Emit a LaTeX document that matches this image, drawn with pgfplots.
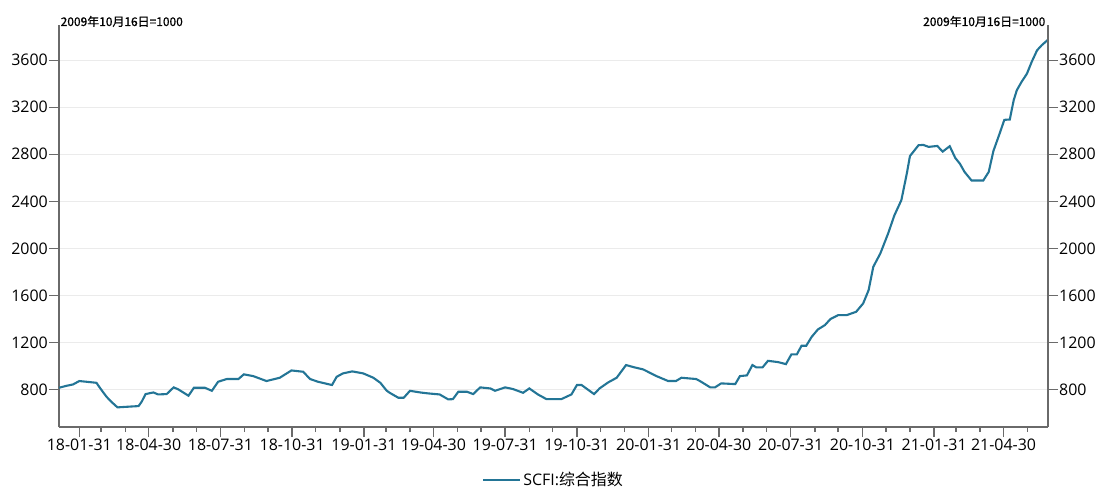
\documentclass[border=0pt]{standalone}
\usepackage{fontspec}
\setmainfont{Open Sans}
\newfontfamily\cjk{Noto Sans CJK SC}
\newfontfamily\cjkb[FakeBold=0.8]{Noto Sans CJK SC}
\usepackage{pgfplots}
\usepackage{pgfplotstable}
\pgfplotsset{compat=1.18}
\definecolor{linec}{HTML}{237596}
\definecolor{axc}{HTML}{6A6A6A}
\definecolor{gridc}{HTML}{EBEBEB}

\pgfplotstableread{
day val
0 814
10 831
18 842
26 871
35 865
48 856
53 808
61 737
67 695
75 647
87 652
102 658
106 695
111 760
121 774
127 757
138 760
147 817
153 800
166 746
173 814
187 814
196 788
204 865
215 888
230 888
237 928
249 913
266 871
283 899
298 961
313 950
322 888
332 865
350 837
356 907
364 936
376 953
390 936
403 899
412 856
420 790
424 771
435 729
442 729
450 788
463 774
473 766
488 757
499 715
505 717
512 780
523 780
531 760
540 817
553 808
559 788
572 817
582 803
595 771
603 808
614 757
625 717
644 717
657 757
664 837
670 837
686 760
693 808
704 859
715 899
727 1007
738 987
749 970
766 913
781 871
791 871
798 899
817 888
822 870
835 817
841 817
849 851
867 845
873 913
882 919
889 1007
894 987
902 987
909 1043
922 1032
932 1015
939 1098
946 1098
952 1171
958 1171
965 1247
973 1310
982 1347
989 1398
999 1432
1010 1432
1022 1460
1031 1531
1038 1644
1044 1843
1053 1956
1063 2126
1071 2280
1080 2410
1087 2637
1091 2785
1102 2877
1108 2880
1115 2863
1126 2871
1133 2823
1142 2869
1149 2770
1155 2720
1161 2650
1170 2577
1185 2577
1192 2650
1198 2828
1206 2977
1212 3093
1219 3096
1224 3260
1228 3345
1234 3415
1241 3486
1247 3585
1254 3685
1260 3728
1268 3775
}\scfi

\begin{document}
\begin{tikzpicture}
\pgfplotsset{
  base/.style={scale only axis, width=989bp, height=402bp,
    xmin=0, xmax=1268, ymin=480, ymax=3900,
    at={(0,0)}, anchor=south west},
  tl/.style={font=\fontsize{16}{19}\selectfont},
}
\begin{axis}[base, clip=false,
  axis x line*=bottom, axis y line*=left,
  axis line style={-, draw=axc, line width=1.8bp},
  tick align=outside,
  xtick={26,115,207,299,391,480,572,664,756,846,938,1030,1122,1211},
  xticklabels={18-01-31,18-04-30,18-07-31,18-10-31,19-01-31,19-04-30,19-07-31,19-10-31,20-01-31,20-04-30,20-07-31,20-10-31,21-01-31,21-04-30},
  minor xtick={54,85,146,176,238,268,329,360,419,450,511,541,603,633,694,725,785,816,877,907,969,999,1060,1091,1150,1181,1242},
  major tick length=10bp, minor tick length=5bp,
  every tick/.style={axc, line width=1.5bp},
  ytick={800,1200,1600,2000,2400,2800,3200,3600},
  ymajorgrids, major grid style={gridc, line width=1bp},
  tick label style={tl},
  /pgf/number format/assume math mode=true,
  /pgf/number format/1000 sep={},
  xticklabel style={inner sep=1bp, yshift=-1bp},
  yticklabel style={inner sep=1bp},
  legend style={at={(0.5,-0.131)}, anchor=center, draw=none, fill=none,
    font=\fontsize{16}{19}\selectfont, inner sep=0pt},
  legend image code/.code={\draw[#1] (0bp,0bp) -- (37bp,0bp);},
]
\addplot[linec, line width=2.1bp] table[x=day,y=val]{\scfi};
\addlegendentry{SCFI:{\cjk 综合指数}}
\node[anchor=base west, inner sep=0, xshift=1.5bp, yshift=-1bp,
  font={\cjkb\fontsize{12}{14}\selectfont}] at (rel axis cs:0,1) {2009年10月16日=1000};
\node[anchor=base east, inner sep=0, xshift=-2.5bp, yshift=-1bp,
  font={\cjkb\fontsize{12}{14}\selectfont}] at (rel axis cs:1,1) {2009年10月16日=1000};
\end{axis}

\begin{axis}[base,
  axis y line*=right, axis x line=none,
  axis line style={-, draw=axc, line width=1.8bp},
  tick align=outside,
  ytick={800,1200,1600,2000,2400,2800,3200,3600},
  yticklabel pos=right,
  major tick length=10bp,
  every tick/.style={axc, line width=1.5bp},
  tick label style={tl},
  /pgf/number format/assume math mode=true,
  /pgf/number format/1000 sep={},
  yticklabel style={inner sep=1bp},
]
\end{axis}

\begin{axis}[base,
  axis x line=none,
  y axis line style={draw=none},
  ytick=\empty,
  minor ytick={533.33,666.67,933.33,1066.67,1333.33,1466.67,1733.33,1866.67,2133.33,2266.67,2533.33,2666.67,2933.33,3066.67,3333.33,3466.67,3733.33,3866.67},
  tick align=inside, ytick pos=both,
  minor tick length=4bp,
  every minor tick/.style={axc, line width=1.5bp},
]
\end{axis}

\pgfresetboundingbox
\useasboundingbox (-59bp,-61bp) rectangle (1043bp,427bp);
\end{tikzpicture}
\end{document}
